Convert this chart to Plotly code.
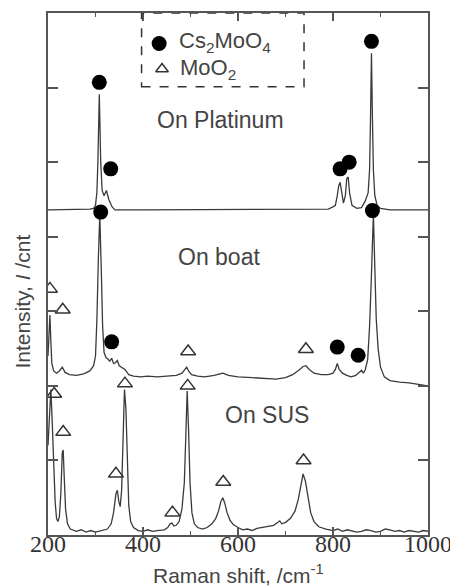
import plotly.graph_objects as go

# ---- data ----
pt_x = [200, 250, 288, 296, 300, 303, 305, 308, 311, 314, 318, 323, 328, 335, 341, 400, 500, 600, 700, 760, 790,
        800, 805, 809, 812, 815, 818, 822, 826, 829, 832, 835, 840, 850, 860, 868, 874, 877, 879, 881, 883, 885,
        888, 893, 900, 920, 1000]
pt_y = [4.36, 4.36, 4.37, 4.38, 4.42, 4.6, 5.0, 5.91, 5.0, 4.62, 4.55, 4.62, 4.5, 4.4, 4.36, 4.36, 4.36, 4.36, 4.36,
        4.36, 4.37, 4.40, 4.42, 4.55, 4.68, 4.73, 4.6, 4.45, 4.55, 4.78, 4.80, 4.58, 4.42, 4.38, 4.39, 4.48, 4.59,
        4.9, 5.6, 6.46, 5.6, 4.9, 4.55, 4.42, 4.38, 4.36, 4.36]

bt_x = [200, 202, 204, 206, 208, 212, 218, 224, 230, 236, 245, 260, 275, 288, 296, 300, 303, 306, 309, 312, 315,
        318, 322, 326, 330, 334, 338, 342, 346, 350, 356, 362, 370, 380, 395, 410, 430, 450, 470, 482, 488, 492,
        496, 502, 515, 530, 550, 568, 580, 600, 630, 660, 680, 700, 715, 728, 737, 743, 750, 760, 775, 790, 800,
        805, 809, 813, 820, 829, 838, 848, 856, 860, 864, 868, 873, 877, 881, 885, 888, 891, 895, 900, 908, 920,
        940, 960, 980, 1000]
bt_y = [2.4, 2.7, 2.95, 2.6, 2.3, 2.2, 2.17, 2.2, 2.25, 2.18, 2.15, 2.14, 2.16, 2.2, 2.27, 2.4, 2.9, 3.7, 4.30, 3.6,
        2.8, 2.45, 2.38, 2.36, 2.33, 2.37, 2.30, 2.31, 2.34, 2.27, 2.25, 2.22, 2.15, 2.13, 2.12, 2.13, 2.12, 2.13,
        2.14, 2.17, 2.22, 2.25, 2.2, 2.15, 2.13, 2.12, 2.14, 2.17, 2.14, 2.12, 2.11, 2.10, 2.09, 2.11, 2.15, 2.21,
        2.26, 2.27, 2.22, 2.17, 2.15, 2.15, 2.17, 2.22, 2.30, 2.22, 2.17, 2.14, 2.12, 2.14, 2.19, 2.21, 2.17, 2.22,
        2.35, 2.8, 3.5, 4.30, 3.6, 2.9, 2.5, 2.25, 2.12, 2.07, 2.05, 2.04, 2.02, 2.0]

sus_x = [200, 203, 206, 209, 212, 215, 218, 221, 224, 227, 230, 232, 234, 237, 241, 247, 260, 270, 280, 290, 300,
         315, 325, 333, 338, 343, 346, 349, 352, 355, 358, 361, 364, 367, 370, 374, 380, 390, 400, 410, 420, 430,
         445, 452, 457, 461, 465, 470, 476, 482, 487, 490, 493, 496, 499, 503, 508, 515, 525, 535, 545, 553, 559,
         564, 568, 572, 577, 583, 590, 600, 610, 620, 630, 640, 660, 675, 684, 688, 692, 700, 710, 720, 727, 732,
         737, 742, 747, 753, 760, 770, 785, 800, 810, 820, 830, 840, 850, 860, 870, 880, 890, 900, 910, 920, 930,
         940, 950, 960, 970, 980, 990, 1000]
sus_y = [1.2, 1.7, 1.95, 1.5, 0.9, 0.45, 0.22, 0.18, 0.25, 0.55, 1.1, 1.14, 0.8, 0.35, 0.15, 0.08, 0.05, 0.07,
         0.04, 0.06, 0.04, 0.06, 0.08, 0.15, 0.3, 0.55, 0.60, 0.45, 0.38, 0.6, 1.3, 1.95, 1.7, 0.9, 0.4, 0.18, 0.1,
         0.06, 0.05, 0.07, 0.05, 0.06, 0.07, 0.10, 0.15, 0.16, 0.12, 0.13, 0.18, 0.35, 0.7, 1.3, 1.93, 1.4, 0.7,
         0.3, 0.15, 0.1, 0.08, 0.1, 0.15, 0.22, 0.32, 0.45, 0.50, 0.43, 0.3, 0.2, 0.14, 0.1, 0.07, 0.08, 0.06,
         0.09, 0.11, 0.13, 0.17, 0.19, 0.15, 0.17, 0.22, 0.32, 0.48, 0.68, 0.82, 0.72, 0.5, 0.3, 0.18, 0.11, 0.08,
         0.06, 0.08, 0.05, 0.07, 0.06, 0.04, 0.05, 0.07, 0.06, 0.04, 0.05, 0.08, 0.07, 0.05, 0.06, 0.04, 0.06,
         0.05, 0.04, 0.06, 0.05]

cs_x = [308, 332, 815, 834, 881, 311, 334, 809, 853, 883]
cs_y = [6.07, 4.91, 4.91, 5.0, 6.62, 4.33, 2.59, 2.52, 2.41, 4.35]

mo_x = [204, 231, 495, 743, 213, 232, 343, 362, 462, 494, 569, 738]
mo_y = [3.30, 3.02, 2.46, 2.49, 1.89, 1.38, 0.82, 2.03, 0.30, 2.0, 0.71, 1.0]

x_ticks = [200, 400, 600, 800, 1000]
x_tick_text = ["200", "400", "600", "800", "1000"]

# ---- figure ----
line_col = "#3a3a3a"
fig = go.Figure()
for xs, ys in [(pt_x, pt_y), (bt_x, bt_y), (sus_x, sus_y)]:
    fig.add_trace(go.Scatter(x=xs, y=ys, mode="lines",
                             line=dict(color=line_col, width=1.3), showlegend=False))

fig.add_trace(go.Scatter(x=cs_x, y=cs_y, mode="markers",
                         marker=dict(symbol="circle", size=15, color="black"), showlegend=False))
fig.add_trace(go.Scatter(x=mo_x, y=mo_y, mode="markers",
                         marker=dict(symbol="triangle-up-open", size=13, color="#333",
                                     line=dict(width=1.5, color="#333")), showlegend=False))

# legend box contents
fig.add_shape(type="rect", x0=397, x1=739, y0=6.01, y1=7, xref="x", yref="y",
              line=dict(color="#333", width=1.5, dash="dash"))
fig.add_trace(go.Scatter(x=[434], y=[6.59], mode="markers",
                         marker=dict(symbol="circle", size=15, color="black"), showlegend=False))
fig.add_trace(go.Scatter(x=[440], y=[6.25], mode="markers",
                         marker=dict(symbol="triangle-up-open", size=11, color="#333",
                                     line=dict(width=1.5, color="#333")), showlegend=False))

txt_font = dict(family="Liberation Sans, Arial, sans-serif", size=23, color="#444")
leg_font = dict(family="Liberation Sans, Arial, sans-serif", size=22, color="#444")
fig.add_annotation(x=471, y=6.61, text="Cs<sub>2</sub>MoO<sub>4</sub>", showarrow=False,
                   xanchor="left", yanchor="middle", font=leg_font)
fig.add_annotation(x=473, y=6.25, text="MoO<sub>2</sub>", showarrow=False,
                   xanchor="left", yanchor="middle", font=leg_font)
fig.add_annotation(x=564, y=5.57, text="On Platinum", showarrow=False, font=txt_font)
fig.add_annotation(x=561, y=3.73, text="On boat", showarrow=False, font=txt_font)
fig.add_annotation(x=662, y=1.61, text="On SUS", showarrow=False, font=txt_font)

# axis titles
fig.add_annotation(x=0.5, y=0, xref="paper", yref="paper", yshift=-39, yanchor="middle",
                   text="Raman shift, /cm<sup>-1</sup>", showarrow=False,
                   font=dict(family="Liberation Sans, Arial, sans-serif", size=21, color="#444"))
fig.add_annotation(x=0, y=3.13, xref="paper", yref="y", xshift=-25, xanchor="center",
                   text="Intensity, <i>I</i> /cnt", textangle=-90, showarrow=False,
                   font=dict(family="Liberation Sans, Arial, sans-serif", size=21, color="#444"))

# page body has an 8 px default margin: figure is 8 px smaller and margins compensate
fig.update_layout(
    width=450, height=579,
    margin=dict(l=40, r=30, t=5, b=52),
    plot_bgcolor="white", paper_bgcolor="white",
    xaxis=dict(range=[200, 1000], tickvals=x_ticks, ticktext=x_tick_text,
               ticks="inside", ticklen=8, tickwidth=1.5, tickcolor="#555",
               showline=True, linecolor="#555", linewidth=1.5, mirror="ticks",
               showgrid=False, zeroline=False, automargin=False, ticklabelstandoff=-14,
               minor=dict(dtick=100, tick0=200, ticks="inside", ticklen=4, tickwidth=1.2, tickcolor="#555"),
               tickfont=dict(family="Liberation Serif, Times New Roman, serif", size=24, color="#333")),
    yaxis=dict(range=[0, 7], dtick=1, tick0=0, ticks="inside", ticklen=10, tickwidth=1.5, tickcolor="#555",
               showline=True, linecolor="#555", linewidth=1.5, mirror="ticks",
               showgrid=False, zeroline=False, showticklabels=False, automargin=False),
)

fig.write_html("out.html")
